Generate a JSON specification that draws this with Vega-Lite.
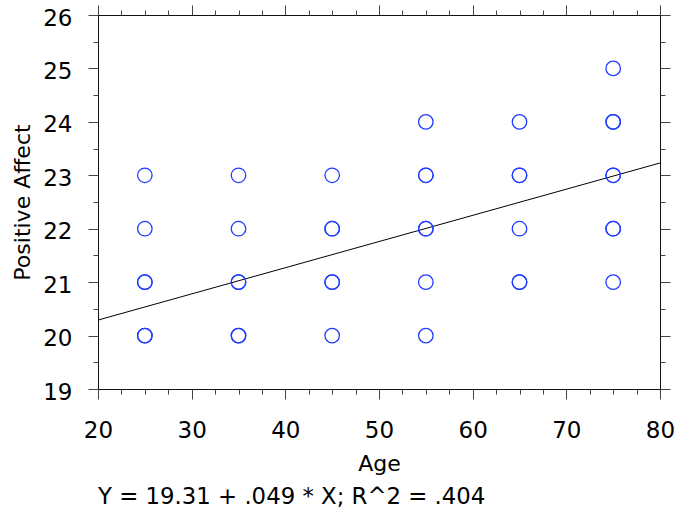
{
  "$schema": "https://vega.github.io/schema/vega-lite/v6.json",
  "width": 562,
  "height": 374,
  "autosize": "none",
  "padding": {"left": 98, "top": 15, "right": 20, "bottom": 125},
  "background": "white",
  "config": {
    "view": {"stroke": null},
    "font": "DejaVu Sans",
    "axis": {
      "grid": false,
      "domainColor": "#111111",
      "domainWidth": 1,
      "tickColor": "#444444",
      "tickWidth": 1,
      "labelColor": "black",
      "titleColor": "black",
      "labelFontSize": 23,
      "titleFontSize": 22,
      "titleFontWeight": "normal",
      "labelFont": "DejaVu Sans",
      "titleFont": "DejaVu Sans",
      "labelFlush": false,
      "labelOverlap": false
    }
  },
  "title": {
    "text": "Y = 19.31 + .049 * X; R^2 = .404",
    "orient": "bottom",
    "anchor": "start",
    "frame": "group",
    "fontSize": 22.8,
    "fontWeight": "normal",
    "font": "DejaVu Sans",
    "color": "black",
    "offset": 12
  },
  "datasets": {
    "pts": [
      {"age": 25, "pa": 23}, {"age": 25, "pa": 22}, {"age": 25, "pa": 21}, {"age": 25, "pa": 21}, {"age": 25, "pa": 20}, {"age": 25, "pa": 20},
      {"age": 35, "pa": 23}, {"age": 35, "pa": 22}, {"age": 35, "pa": 21}, {"age": 35, "pa": 21}, {"age": 35, "pa": 20}, {"age": 35, "pa": 20},
      {"age": 45, "pa": 23}, {"age": 45, "pa": 22}, {"age": 45, "pa": 22}, {"age": 45, "pa": 21}, {"age": 45, "pa": 21}, {"age": 45, "pa": 20},
      {"age": 55, "pa": 24}, {"age": 55, "pa": 23}, {"age": 55, "pa": 23}, {"age": 55, "pa": 22}, {"age": 55, "pa": 22}, {"age": 55, "pa": 21}, {"age": 55, "pa": 20},
      {"age": 65, "pa": 24}, {"age": 65, "pa": 23}, {"age": 65, "pa": 23}, {"age": 65, "pa": 22}, {"age": 65, "pa": 21}, {"age": 65, "pa": 21},
      {"age": 75, "pa": 25}, {"age": 75, "pa": 24}, {"age": 75, "pa": 24}, {"age": 75, "pa": 23}, {"age": 75, "pa": 23}, {"age": 75, "pa": 22}, {"age": 75, "pa": 22}, {"age": 75, "pa": 21}
    ],
    "fit": [
      {"age": 20, "pa": 20.29},
      {"age": 80, "pa": 23.23}
    ]
  },
  "layer": [
    {
      "data": {"name": "fit"},
      "mark": {"type": "line", "color": "black", "strokeWidth": 1},
      "encoding": {
        "x": {"field": "age", "type": "quantitative", "scale": {"domain": [20, 80], "nice": false, "zero": false},
              "axis": {"orient": "bottom", "values": [20, 30, 40, 50, 60, 70, 80], "tickSize": 10, "labelPadding": 20, "title": "Age", "titlePadding": 11, "domain": true}},
        "y": {"field": "pa", "type": "quantitative", "scale": {"domain": [19, 26], "nice": false, "zero": false},
              "axis": {"orient": "left", "values": [19, 20, 21, 22, 23, 24, 25, 26], "tickSize": 10, "labelPadding": 16, "labelOffset": 3, "title": "Positive Affect", "titlePadding": 8, "domain": true}}
      }
    },
    {
      "data": {"name": "pts"},
      "mark": {"type": "point", "shape": "circle", "filled": false, "color": "#1f3cff", "size": 210, "strokeWidth": 1.3, "opacity": 1},
      "encoding": {
        "x": {"field": "age", "type": "quantitative",
              "axis": {"orient": "bottom", "values": [22.5, 25, 27.5, 32.5, 35, 37.5, 42.5, 45, 47.5, 52.5, 55, 57.5, 62.5, 65, 67.5, 72.5, 75, 77.5], "tickSize": 5, "labels": false, "title": null, "domain": false}},
        "y": {"field": "pa", "type": "quantitative",
              "axis": {"orient": "left", "values": [19.5, 20.5, 21.5, 22.5, 23.5, 24.5, 25.5], "tickSize": 5, "labels": false, "title": null, "domain": false}}
      }
    },
    {
      "data": {"name": "fit"},
      "mark": {"type": "point", "opacity": 0},
      "encoding": {
        "x": {"field": "age", "type": "quantitative",
              "axis": {"orient": "top", "values": [20, 30, 40, 50, 60, 70, 80], "tickSize": 10, "labels": false, "title": null, "domain": true}},
        "y": {"field": "pa", "type": "quantitative",
              "axis": {"orient": "right", "values": [19, 20, 21, 22, 23, 24, 25, 26], "tickSize": 10, "labels": false, "title": null, "domain": true}}
      }
    },
    {
      "data": {"name": "fit"},
      "mark": {"type": "point", "opacity": 0},
      "encoding": {
        "x": {"field": "age", "type": "quantitative",
              "axis": {"orient": "top", "values": [22.5, 25, 27.5, 32.5, 35, 37.5, 42.5, 45, 47.5, 52.5, 55, 57.5, 62.5, 65, 67.5, 72.5, 75, 77.5], "tickSize": 5, "labels": false, "title": null, "domain": false}},
        "y": {"field": "pa", "type": "quantitative",
              "axis": {"orient": "right", "values": [19.5, 20.5, 21.5, 22.5, 23.5, 24.5, 25.5], "tickSize": 5, "labels": false, "title": null, "domain": false}}
      }
    }
  ],
  "resolve": {"axis": {"x": "independent", "y": "independent"}}
}
